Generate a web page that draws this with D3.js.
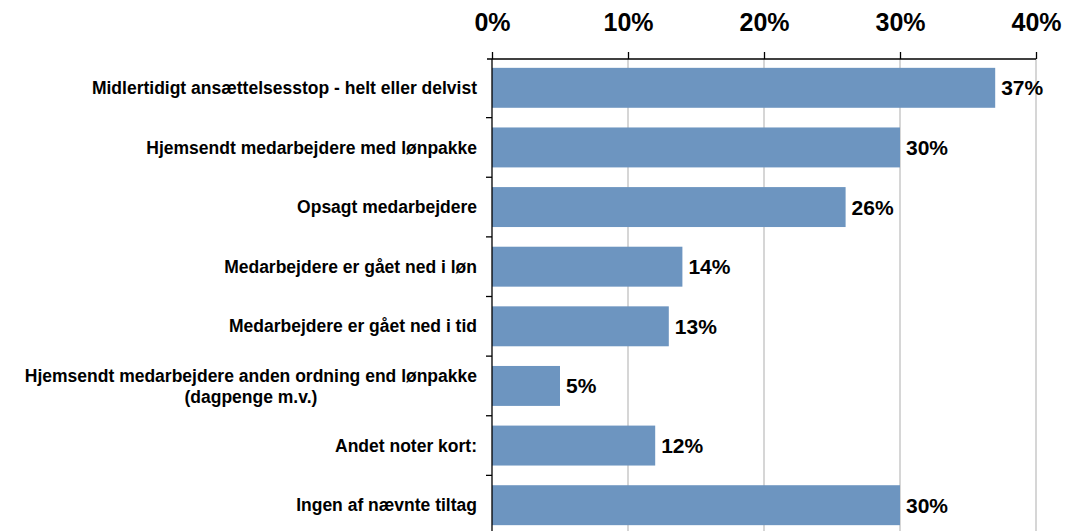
<!DOCTYPE html>
<html><head><meta charset="utf-8">
<script src="https://cdn.jsdelivr.net/npm/d3@7"></script>
<style>body{margin:0;background:#fff}svg{display:block}text{font-family:"Liberation Sans",Arial,sans-serif;font-weight:bold}</style>
</head><body><svg id="c" width="1067" height="531"></svg>
<script>
const categories = [
  "Midlertidigt ansættelsesstop - helt eller delvist",
  "Hjemsendt medarbejdere med lønpakke",
  "Opsagt medarbejdere",
  "Medarbejdere er gået ned i løn",
  "Medarbejdere er gået ned i tid",
  "Hjemsendt medarbejdere anden ordning end lønpakke|(dagpenge m.v.)",
  "Andet noter kort:",
  "Ingen af nævnte tiltag"
];
const values = [37, 30, 26, 14, 13, 5, 12, 30];
const tickValues = [0, 10, 20, 30, 40];

const svg = d3.select("#c");
const x = d3.scaleLinear().domain([0, 40]).range([492, 1036]);
const y = d3.scaleBand().domain(categories).range([58, 535]).paddingInner(0.33).paddingOuter(0.165);

// gridlines
svg.append("g").selectAll("line").data(tickValues.slice(1)).join("line")
  .attr("x1", d => x(d)).attr("x2", d => x(d)).attr("y1", 59).attr("y2", 531)
  .attr("stroke", "#c8c8c8").attr("stroke-width", 1.5);

// bars
svg.append("g").selectAll("rect").data(values).join("rect")
  .attr("x", x(0)).attr("y", (d, i) => y(categories[i]))
  .attr("width", d => x(d) - x(0)).attr("height", y.bandwidth())
  .attr("fill", "#6d95c0");

// top axis
const ax = d3.axisTop(x).tickValues(tickValues).tickFormat(d => d + "%").tickSize(7).tickPadding(21);
const gx = svg.append("g").attr("transform", "translate(0,59)").call(ax);
gx.select(".domain").attr("stroke", "#000").attr("stroke-width", 1.3).attr("d", `M${x(0)-5},0H${x(40)}`);
gx.selectAll(".tick line").attr("stroke", "#000").attr("stroke-width", 1.3);
gx.selectAll(".tick text").attr("font-size", 25).attr("fill", "#000")
  .style("font-family", '"Liberation Sans",Arial,sans-serif').style("font-weight", "bold");

// left axis line and category separators
const step = y.step();
svg.append("line").attr("x1", x(0)).attr("x2", x(0)).attr("y1", 59).attr("y2", 531).attr("stroke", "#000").attr("stroke-width", 1.3);
svg.append("g").selectAll("line").data(categories.slice(1)).join("line")
  .attr("x1", x(0) - 6).attr("x2", x(0))
  .attr("y1", d => y(d) - y.paddingInner() * step / 2).attr("y2", d => y(d) - y.paddingInner() * step / 2)
  .attr("stroke", "#000").attr("stroke-width", 1.3);

// category labels
const labelRight = 477;
const lab = svg.append("g").selectAll("text").data(categories).join("text")
  .attr("font-size", 17.5).attr("fill", "#000")
  .attr("y", d => y(d) + y.bandwidth() / 2);
lab.each(function(d) {
  const parts = d.split("|");
  const t = d3.select(this);
  const n = parts.length;
  if (n === 1) {
    t.attr("x", labelRight).attr("text-anchor", "end").attr("dy", "0.35em").text(d);
  } else {
    t.attr("text-anchor", "middle");
    const spans = parts.map((p, i) => t.append("tspan")
      .attr("dy", i === 0 ? ((-(n - 1) / 2) * 1.2 + 0.35) + "em" : "1.2em").text(p));
    const w = spans[0].node().getComputedTextLength();
    spans.forEach(s => s.attr("x", labelRight - w / 2));
  }
});

// value labels
svg.append("g").selectAll("text").data(values).join("text")
  .attr("x", d => x(d) + 6).attr("y", (d, i) => y(categories[i]) + y.bandwidth() / 2)
  .attr("dy", "0.36em").attr("font-size", 21).attr("fill", "#000")
  .text(d => d + "%");
</script></body></html>
